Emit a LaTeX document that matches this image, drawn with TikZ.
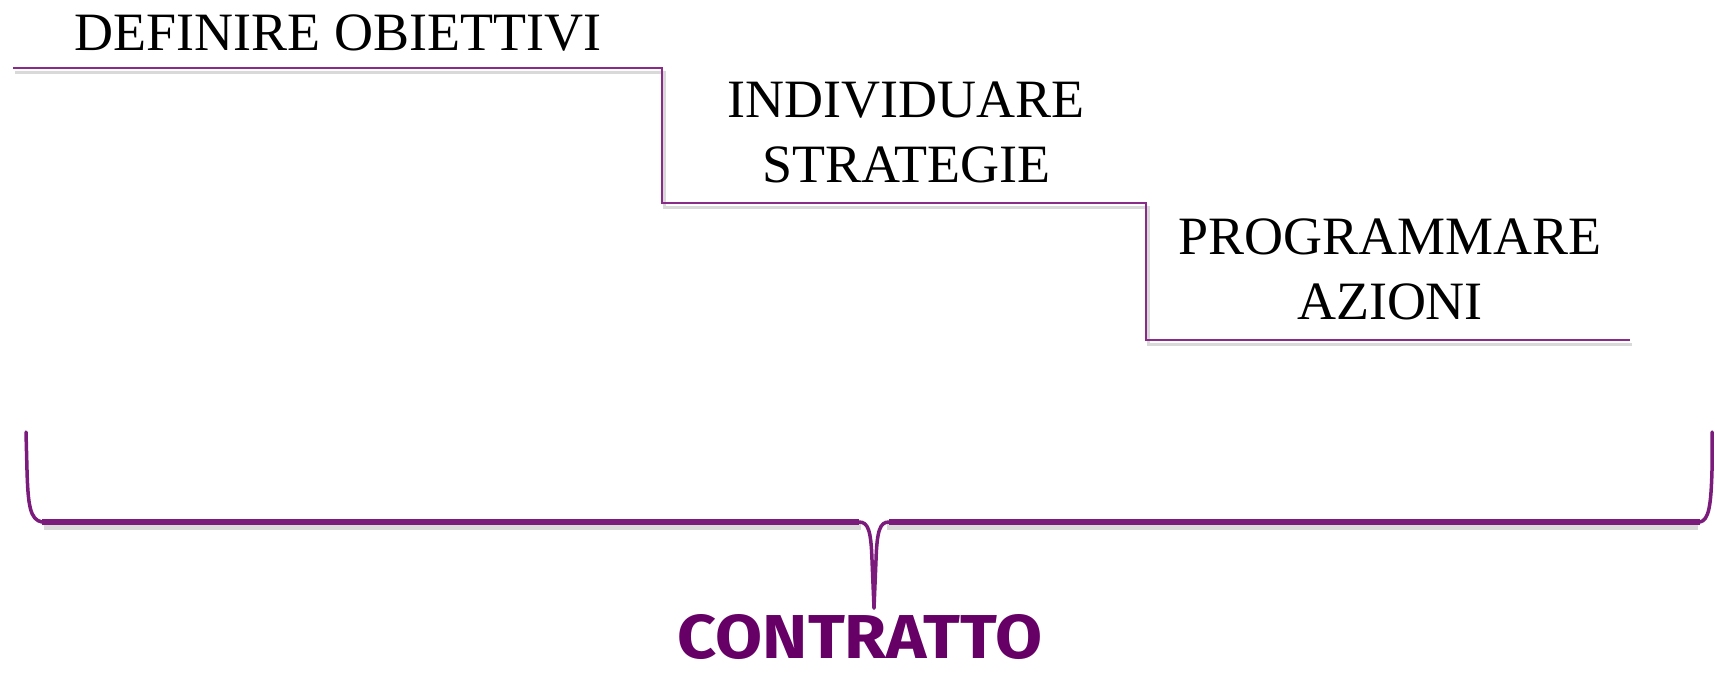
\documentclass[tikz,border=0pt]{standalone}
\usepackage{fontspec}
\setmainfont{Liberation Serif}
\newfontfamily\contrfont[FakeStretch=1.1]{Fira Sans}
\usetikzlibrary{positioning}
\definecolor{steppurple}{HTML}{8A2B8A}
\definecolor{bracepurple}{HTML}{7B1B7B}
\definecolor{contrpurple}{HTML}{660066}

\begin{document}
\begin{tikzpicture}[x=1pt, y=-1pt,
    stepnode/.style={font=\fontsize{54}{65}\selectfont, align=center,
                     inner sep=0pt, anchor=north},
    stepline/.style={draw=steppurple, line width=2},
    shadowline/.style={draw=black!15, line width=3},
    bracearm/.style={draw=bracepurple, line width=3.5, line cap=round},
    bracebar/.style={draw=bracepurple, line width=6}
]
\clip (0,0) rectangle (1715,673);
\fill[white] (0,0) rectangle (1715,673);

% --- steps ---
\node[stepnode] (defin) at (338,15) {DEFINIRE OBIETTIVI};
\node[stepnode] (indiv) at (906,82) {INDIVIDUARE\\STRATEGIE};
\node[stepnode] (progr) at (1390,219) {PROGRAMMARE\\AZIONI};

\draw[shadowline, shift={(2,4)}] (13,68) -- (662,68) -- (662,203) -- (1146,203)
    -- (1146,340) -- (1630,340);
\draw[stepline] (13,68) -- (662,68) -- (662,203) -- (1146,203)
    -- (1146,340) -- (1630,340);

% --- brace ---
\draw[shadowline, line width=6, shift={(2,5)}] (42,522) -- (859,522);
\draw[shadowline, line width=6, shift={(-2,5)}] (889,522) -- (1700,522);
\draw[bracearm] (26,432) -- (27,470) .. controls (28,505) and (30,520) .. (42,522);
\draw[bracearm] (1712,432) -- (1712,470) .. controls (1711,505) and (1709,520) .. (1700,522);
\draw[bracebar] (42,522) -- (859,522);
\draw[bracebar] (889,522) -- (1700,522);
\draw[bracearm] (859,522) .. controls (868,522) and (871,530) .. (872,560) -- (874,608);
\draw[bracearm] (889,522) .. controls (880,522) and (877,530) .. (876,560) -- (874,608);

\node[anchor=north, inner sep=0pt, text=contrpurple,
      font=\contrfont\bfseries\fontsize{62}{66}\selectfont] (contr) at (860,614) {CONTRATTO};

\end{tikzpicture}
\end{document}
